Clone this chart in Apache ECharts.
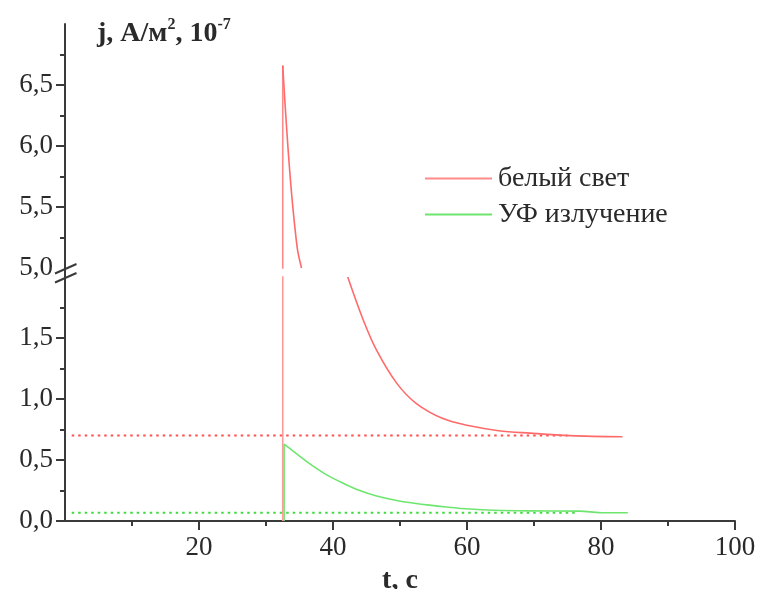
<!DOCTYPE html>
<html>
<head>
<meta charset="utf-8">
<script src="https://cdn.jsdelivr.net/npm/echarts@6/dist/echarts.min.js"></script>
<style>
  html, body { margin: 0; padding: 0; background: #fff; }
  #chart { width: 761px; height: 589px; }
</style>
</head>
<body>
<div id="chart"></div>
<script>
// Photocurrent density j (A/m², ×10⁻⁷) versus time t (s)
const seriesNames = ['белый свет', 'УФ излучение'];

// white light: switch-on step, spike above the break, decay tail below it
const whiteRise = [[32.5, 0], [32.5, 6.66]];
const whiteSpike = [
  [32.5, 6.66], [32.8, 6.38], [33.3, 5.97], [33.9, 5.56], [34.7, 5.15], [35.3, 5.0]
];
const whiteTail = [
  [42.2, 2.0], [44.5, 1.65], [46.5, 1.40], [49.5, 1.13], [52.4, 0.965],
  [56.4, 0.84], [60.4, 0.78], [64.7, 0.74], [69.4, 0.72], [75.4, 0.70], [83.2, 0.69]
];

// UV irradiation: switch-on step, then decay
const uvRise = [[32.7, 0], [32.7, 0.63]];
const uvDecay = [
  [32.7, 0.63], [34.0, 0.575], [36.5, 0.47], [39.0, 0.38], [41.5, 0.31],
  [44.0, 0.25], [46.5, 0.205], [49.5, 0.168], [51.9, 0.148], [54.4, 0.13], [56.9, 0.115],
  [60.4, 0.098], [64.0, 0.088], [69.4, 0.083], [76.8, 0.081], [80.0, 0.068], [84.0, 0.068]
];

// dark-current levels (dotted)
const whiteDarkLevel = [[1, 0.70], [75, 0.70]];
const uvDarkLevel = [[1, 0.068], [76.5, 0.068]];

// axis ticks
const timeTicks = [20, 40, 60, 80, 100];
const timeMinorTicks = [10, 30, 50, 70, 90];
const lowerTicks = [0, 0.5, 1.0, 1.5];
const upperTicks = [5.0, 5.5, 6.0, 6.5];

const RED = '#ff6a6a';
const GREEN = '#6ee66e';
const AXIS = '#3a3a3a';
const TEXT = '#2a2a2a';
const FONT = '"Liberation Serif", "Times New Roman", serif';

const fmt = v => v.toFixed(1).replace('.', ',');

const chart = echarts.init(document.getElementById('chart'), null, { renderer: 'canvas' });

const yCommon = {
  type: 'value',
  interval: 0.5,
  axisLine: { show: true, lineStyle: { color: AXIS, width: 2 } },
  axisTick: { show: true, inside: false, length: 9, lineStyle: { color: AXIS, width: 2 } },
  minorTick: { show: true, splitNumber: 2, length: 5, lineStyle: { color: AXIS, width: 2 } },
  splitLine: { show: false },
  axisLabel: { color: TEXT, fontFamily: FONT, fontSize: 27, margin: 12, formatter: fmt }
};

const xCommon = {
  type: 'value',
  min: 0, max: 100, interval: 20,
  splitLine: { show: false }
};

const lineSeries = (name, data, xi, yi, color, smooth, z) => ({
  type: 'line', name, xAxisIndex: xi, yAxisIndex: yi, data,
  symbol: 'none', smooth, clip: true, z,
  color, lineStyle: { color, width: 1.6 }
});

const option = {
  animation: false,
  backgroundColor: '#fff',
  title: {
    left: 92, top: 12,
    text: '{b|j, A/м}{s|2}{b|, 10}{s|-7}',
    textStyle: {
      rich: {
        b: { fontFamily: FONT, fontSize: 28, fontWeight: 'bold', color: TEXT, lineHeight: 34 },
        s: { fontFamily: FONT, fontSize: 16, fontWeight: 'bold', color: TEXT, verticalAlign: 'top', lineHeight: 18 }
      }
    }
  },
  legend: {
    data: seriesNames,
    orient: 'vertical',
    left: 420, top: 158,
    icon: 'rect',
    itemWidth: 67, itemHeight: 2,
    itemGap: 5,
    textStyle: { fontFamily: FONT, fontSize: 28, color: TEXT, lineHeight: 31, padding: [0, 0, 0, 1] }
  },
  grid: [
    { left: 65, width: 670, top: 24, height: 244, outerBoundsMode: 'none', containLabel: false },
    { left: 65, width: 670, top: 277, height: 244, outerBoundsMode: 'none', containLabel: false }
  ],
  xAxis: [
    Object.assign({}, xCommon, { gridIndex: 0, show: false }),
    Object.assign({}, xCommon, {
      gridIndex: 1,
      position: 'bottom',
      axisLine: { show: true, lineStyle: { color: AXIS, width: 2 } },
      axisTick: { show: true, inside: false, length: 9, customValues: timeTicks, lineStyle: { color: AXIS, width: 2 } },
      minorTick: { show: false },
      axisLabel: { customValues: timeTicks, color: TEXT, fontFamily: FONT, fontSize: 27, margin: 13 },
      name: 't, c',
      nameLocation: 'middle',
      nameGap: 46,
      nameTextStyle: { fontFamily: FONT, fontSize: 28, fontWeight: 'bold', color: TEXT, verticalAlign: 'top' }
    }),
    // short minor ticks between the labelled ones
    Object.assign({}, xCommon, {
      gridIndex: 1,
      position: 'bottom',
      offset: 0,
      axisLine: { show: false },
      axisTick: { show: true, inside: false, length: 5, customValues: timeMinorTicks, lineStyle: { color: AXIS, width: 2 } },
      minorTick: { show: false },
      axisLabel: { show: false }
    })
  ],
  yAxis: [
    Object.assign({}, yCommon, {
      gridIndex: 0, min: 5, max: 7,
      axisTick: Object.assign({}, yCommon.axisTick, { customValues: [5.5, 6.0, 6.5] }),
      axisLabel: Object.assign({}, yCommon.axisLabel, { customValues: upperTicks })
    }),
    Object.assign({}, yCommon, {
      gridIndex: 1, min: 0, max: 2,
      axisTick: Object.assign({}, yCommon.axisTick, { customValues: lowerTicks }),
      axisLabel: Object.assign({}, yCommon.axisLabel, { customValues: lowerTicks })
    })
  ],
  series: [
    {
      type: 'line', name: 'dark-white', xAxisIndex: 1, yAxisIndex: 1,
      data: whiteDarkLevel, symbol: 'none', silent: true, z: 1,
      lineStyle: { color: '#ff5050', width: 2, type: [2.5, 4] }
    },
    {
      type: 'line', name: 'dark-uv', xAxisIndex: 1, yAxisIndex: 1,
      data: uvDarkLevel, symbol: 'none', silent: true, z: 1,
      lineStyle: { color: '#3fdc3f', width: 2, type: [2.5, 4] }
    },
    lineSeries(seriesNames[0], whiteRise, 0, 0, '#ff8a8a', false, 3),
    lineSeries(seriesNames[0], whiteSpike, 0, 0, RED, 0.25, 3),
    lineSeries(seriesNames[0], whiteRise, 1, 1, '#ff9a9a', false, 3),
    lineSeries(seriesNames[0], whiteTail, 1, 1, RED, 0.35, 3),
    lineSeries(seriesNames[1], uvRise, 1, 1, GREEN, false, 2),
    lineSeries(seriesNames[1], uvDecay, 1, 1, GREEN, 0.35, 2)
  ],
  // axis-break marker joining the two value ranges on the left axis
  graphic: [
    { type: 'line', shape: { x1: 65, y1: 268, x2: 65, y2: 277 }, style: { stroke: AXIS, lineWidth: 2 }, z: 10 },
    { type: 'line', shape: { x1: 55, y1: 273.5, x2: 76.5, y2: 264 }, style: { stroke: AXIS, lineWidth: 2 }, z: 10 },
    { type: 'line', shape: { x1: 55, y1: 282.5, x2: 76.5, y2: 273 }, style: { stroke: AXIS, lineWidth: 2 }, z: 10 }
  ]
};

chart.setOption(option);
</script>
</body>
</html>
